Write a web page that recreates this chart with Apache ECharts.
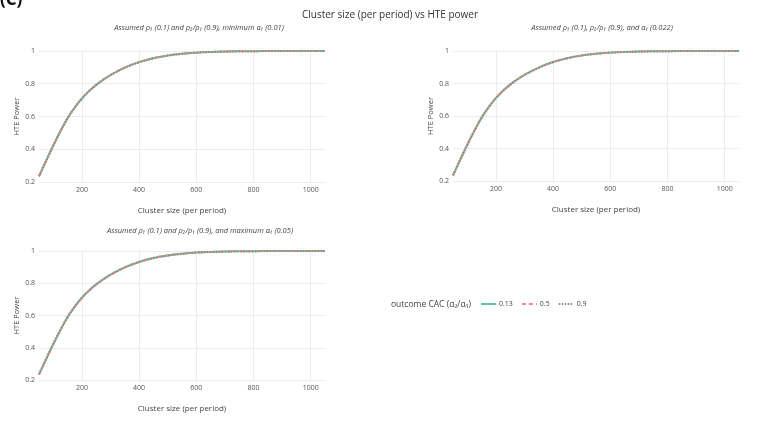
<!DOCTYPE html>
<html>
<head>
<meta charset="utf-8">
<script src="https://cdn.jsdelivr.net/npm/echarts@6/dist/echarts.min.js"></script>
<style>html,body{margin:0;padding:0;background:#fff}#c{width:760px;height:424px}</style>
</head>
<body>
<div id="c"></div>
<script>
// ---- data ----
const clusterSizes = [50, 75, 100, 125, 150, 175, 200, 225, 250, 275, 300, 350, 400, 450, 500, 550, 600, 650, 700, 750, 800, 900, 1000, 1050];
// panel 1: minimum alpha1 (0.01)
const powerMinAlpha = [0.235, 0.33, 0.423, 0.51, 0.59, 0.655, 0.71, 0.755, 0.793, 0.825, 0.853, 0.898, 0.932, 0.956, 0.972, 0.983, 0.99, 0.994, 0.997, 0.998, 0.999, 1.0, 1.0, 1.0];
// panel 2: alpha1 (0.022)
const powerMidAlpha = [0.235, 0.33, 0.423, 0.51, 0.59, 0.655, 0.71, 0.755, 0.793, 0.825, 0.853, 0.898, 0.932, 0.956, 0.972, 0.983, 0.99, 0.994, 0.997, 0.998, 0.999, 1.0, 1.0, 1.0];
// panel 3: maximum alpha1 (0.05)
const powerMaxAlpha = [0.235, 0.33, 0.423, 0.51, 0.59, 0.655, 0.71, 0.755, 0.793, 0.825, 0.853, 0.898, 0.932, 0.956, 0.972, 0.983, 0.99, 0.994, 0.997, 0.998, 0.999, 1.0, 1.0, 1.0];
const cacLevels = ['0.13', '0.5', '0.9'];
const xTicks = [200, 400, 600, 800, 1000];
const yTicks = [0.2, 0.4, 0.6, 0.8, 1];
const panelTitles = [
  'Assumed ρ₁ (0.1) and ρ₂/ρ₁ (0.9), minimum α₁ (0.01)',
  'Assumed ρ₁ (0.1), ρ₂/ρ₁ (0.9), and α₁ (0.022)',
  'Assumed ρ₁ (0.1) and ρ₂/ρ₁ (0.9), and maximum α₁ (0.05)'
];
const mainTitle = 'Cluster size (per period) vs HTE power';
const xTitle = 'Cluster size (per period)';
const yTitle = 'HTE Power';
const legendTitle = 'outcome CAC (α₂/α₁)';

// ---- styling / layout ----
const FONT = 'Open Sans, DejaVu Sans, sans-serif';
const colors = ['#5fc49f', '#f4907d', '#8c8c8c'];
const lineTypes = ['solid', [4, 3], [1.5, 1.5]];
const grids = [
  {left: 39, top: 51, width: 286, height: 131},
  {left: 453, top: 51, width: 286, height: 130},
  {left: 39, top: 251, width: 286, height: 129}
];
const panelPowers = [powerMinAlpha, powerMidAlpha, powerMaxAlpha];

const xAxes = grids.map((g, i) => ({
  type: 'value', gridIndex: i, min: 50, max: 1050,
  axisLine: {show: false}, axisTick: {show: false, customValues: xTicks},
  axisLabel: {customValues: xTicks, fontSize: 7, color: '#555', margin: 4, fontFamily: FONT,
    formatter: v => String(v)},
  splitLine: {show: true, lineStyle: {color: '#ececec', width: 1}},
  name: xTitle, nameLocation: 'middle', nameGap: 25,
  nameTextStyle: {fontSize: 8, color: '#444', fontFamily: FONT}
}));
const yAxes = grids.map((g, i) => ({
  type: 'value', gridIndex: i, min: yTicks[0], max: yTicks[yTicks.length - 1], interval: 0.2,
  axisLine: {show: false}, axisTick: {show: false},
  axisLabel: {fontSize: 7, color: '#555', margin: 4, fontFamily: FONT,
    formatter: v => String(Math.round(v * 10) / 10)},
  splitLine: {show: true, lineStyle: {color: '#ececec', width: 1}},
  name: yTitle, nameLocation: 'middle', nameGap: 18, nameRotate: 90,
  nameTextStyle: {fontSize: 7.5, color: '#444', fontFamily: FONT}
}));

const series = [];
panelPowers.forEach((pw, p) => {
  cacLevels.forEach((lvl, k) => {
    series.push({
      name: lvl, type: 'line', xAxisIndex: p, yAxisIndex: p,
      showSymbol: false, symbol: 'none', smooth: 0.4, z: 2 + k,
      data: clusterSizes.map((x, j) => [x, pw[j]]),
      lineStyle: {color: colors[k], width: 2, type: lineTypes[k]},
      itemStyle: {color: colors[k]}
    });
  });
});

const subPos = [[199, 28], [602, 28], [200, 231]];
const graphic = [
  {type: 'text', left: 0, top: -8, style: {text: '(C)', fontSize: 17, fontWeight: 'bold', fill: '#111', fontFamily: FONT}},
  {type: 'text', x: 390, y: 15, style: {text: mainTitle, fontSize: 10, fill: '#333', align: 'center', verticalAlign: 'middle', fontFamily: FONT}},
  {type: 'text', x: 391, y: 305, style: {text: legendTitle, fontSize: 8.5, fill: '#444', align: 'left', verticalAlign: 'middle', fontFamily: FONT}}
];
panelTitles.forEach((t, i) => {
  graphic.push({type: 'text', x: subPos[i][0], y: subPos[i][1],
    style: {text: t, fontSize: 7.5, fontStyle: 'italic', fill: '#444', align: 'center', verticalAlign: 'middle', fontFamily: FONT}});
});

const chart = echarts.init(document.getElementById('c'), null, {renderer: 'canvas'});
chart.setOption({
  animation: false,
  backgroundColor: '#fff',
  grid: grids.map(g => Object.assign({containLabel: false}, g)),
  xAxis: xAxes,
  yAxis: yAxes,
  series: series,
  legend: {
    data: cacLevels, left: 480, top: 300, padding: 0, itemWidth: 15, itemHeight: 10, itemGap: 8,
    itemStyle: {opacity: 0},
    textStyle: {fontSize: 7, color: '#444', fontFamily: FONT, padding: [0, 0, 0, -2]}, selectedMode: false
  },
  graphic: graphic
});
</script>
</body>
</html>
